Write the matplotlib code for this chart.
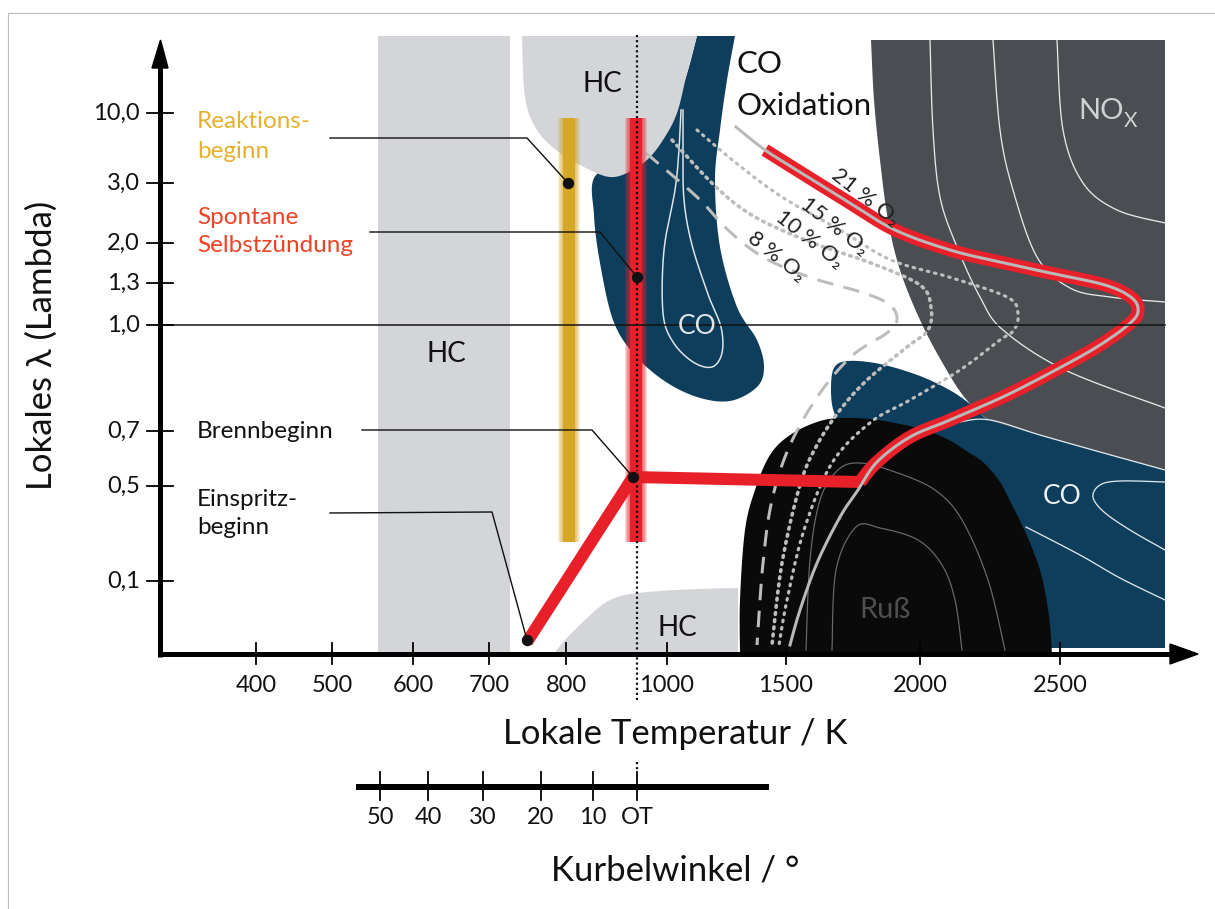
import numpy as np
import matplotlib.pyplot as plt

plt.rcParams['font.family'] = ['Lato', 'DejaVu Sans']

# ---- axis scales (schematic: positions on the 1215x909 drawing canvas) ----
lambda_labels = ["10,0", "3,0", "2,0", "1,3", "1,0", "0,7", "0,5", "0,1"]
lambda_pos = [113, 183, 243, 283, 325, 431, 486, 581]
temp_labels = ["400", "500", "600", "700", "800", "1000", "1500", "2000", "2500"]
temp_pos = [256, 332, 413, 489, 566, 667, 786, 920, 1060]
crank_labels = ["50", "40", "30", "20", "10", "OT"]
crank_pos = [380, 428, 483, 541, 593, 637]

# ---- region outlines (curved part, straight corners close the shape) ----
nox_curve = [(1165, 470), (1100, 452), (1040, 435), (990, 420), (965, 398), (942, 362),
             (920, 320), (900, 270), (888, 220), (880, 160), (874, 100), (871, 40)]
nox_corner = [(1165, 40)]
co_right_curve = [(1165, 470), (1100, 452), (1040, 435), (990, 420), (975, 408), (953, 392),
                  (920, 376), (880, 364), (848, 361), (834, 368), (831, 390), (834, 412),
                  (845, 425), (900, 432), (1000, 500), (1050, 648)]
co_right_corner = [(1165, 648)]
soot_curve = [(740, 655), (740, 600), (745, 530), (755, 490), (770, 455), (790, 435),
              (817, 422), (840, 418), (870, 419), (895, 423), (925, 430), (949, 440),
              (968, 452), (984, 463), (1000, 482), (1011, 503), (1022, 525), (1030, 543),
              (1040, 570), (1046, 597), (1050, 625), (1052, 655)]
co_left_curve = [(735, 36), (727, 80), (720, 130), (715, 180), (720, 247), (737, 307),
                 (757, 340), (764, 367), (757, 387), (730, 401), (697, 397), (663, 380),
                 (633, 353), (613, 320), (600, 263), (594, 215), (596, 175), (640, 160),
                 (665, 130), (685, 80), (697, 36)]
hc_top_curve = [(697, 36), (687, 73), (677, 113), (663, 140), (647, 160), (627, 173),
                (610, 177), (590, 170), (560, 153), (537, 130), (525, 97), (522, 36)]
hc_bottom_curve = [(553, 655), (565, 640), (585, 620), (605, 603), (625, 595), (660, 591),
                   (700, 589), (738, 588)]
hc_bottom_corner = [(738, 655)]
hc_band_x = (378, 510)

# ---- contour lines ----
co_left_contour = [(681, 110), (679, 150), (675, 190), (664, 250), (663, 313), (673, 342),
                   (693, 362), (712, 367), (722, 353), (721, 327), (709, 297), (692, 245),
                   (684, 200), (683, 150), (683, 110)]
nox_lines = [
    [(930, 40), (933, 130), (940, 197), (957, 247), (980, 297), (1003, 330), (1065, 370), (1165, 408)],
    [(993, 40), (1000, 130), (1013, 190), (1037, 257), (1070, 288), (1110, 297), (1165, 302)],
    [(1057, 40), (1063, 130), (1083, 183), (1117, 210), (1165, 223)],
]
co_right_lines = [
    [(935, 430), (960, 422), (990, 420), (1040, 435), (1100, 452), (1165, 470)],
    [(1165, 482), (1120, 481), (1100, 485), (1093, 497), (1104, 512), (1130, 530), (1165, 550)],
    [(1026, 527), (1080, 555), (1120, 578), (1165, 600)],
]
soot_arches = [
    [(806, 650), (810, 560), (820, 500), (838, 470), (860, 463), (895, 472), (935, 490),
     (962, 520), (988, 580), (1005, 650)],
    [(832, 650), (836, 570), (856, 527), (880, 528), (918, 540), (942, 565), (955, 600), (962, 650)],
]

# ---- O2 curves and process path ----
o2_8 = [(646, 153), (697, 197), (728, 230), (763, 257), (809, 277), (864, 293), (890, 305),
        (897, 320), (887, 333), (853, 355), (820, 393), (790, 445), (772, 500), (763, 563), (757, 645)]
o2_10 = [(672, 140), (716, 187), (755, 217), (813, 243), (871, 263), (920, 285), (931, 307),
         (928, 330), (907, 347), (867, 380), (840, 410), (817, 445), (800, 485), (782, 563), (772, 645)]
o2_15 = [(697, 130), (736, 163), (782, 197), (840, 230), (891, 260), (949, 277), (1007, 297),
         (1018, 313), (1014, 330), (1000, 340), (960, 370), (910, 400), (871, 422), (832, 463),
         (804, 530), (787, 600), (779, 645)]
o2_21 = [(736, 127), (765, 150), (800, 172), (850, 203), (895, 230), (950, 250), (1000, 262),
         (1050, 273), (1105, 285), (1132, 298), (1138, 312), (1128, 325), (1100, 345),
         (1065, 365), (1007, 395), (950, 420), (910, 437), (877, 462), (858, 490), (840, 517),
         (817, 563), (800, 610), (790, 645)]
path_start = [(527, 642), (633, 477), (860, 482)]
path_upper = [(860, 482), (877, 462), (910, 437), (950, 420), (1007, 395), (1065, 365),
              (1100, 345), (1128, 325), (1138, 312), (1132, 298), (1105, 285), (1050, 273),
              (1000, 262), (950, 250), (895, 230), (850, 203), (800, 172), (765, 150)]

bar_yellow_x, bar_red_x, bar_top, bar_bottom = 569, 636, 118, 542

# annotation: text lines, text y, leader polyline, colour
annotations = [
    (["Reaktions-", "beginn"], [122, 151], [(330, 138), (527, 138), (568, 183)], '#e6b12e'),
    (["Spontane", "Selbstzündung"], [217, 245], [(370, 232), (600, 232), (637, 277)], '#ee4325'),
    (["Brennbeginn"], [431], [(362, 430), (592, 430), (633, 477)], '#111111'),
    (["Einspritz-", "beginn"], [499, 527], [(330, 513), (492, 512), (527, 640)], '#111111'),
]

LIGHT = '#d3d5d8'
BLUE = '#0e3e5c'
NOX = '#4a4e52'
PX = 0.72  # points per pixel at dpi 100


def smooth(pts, n=14):
    p = np.asarray(pts, float)
    p = np.vstack([p[0], p, p[-1]])
    t = np.linspace(0, 1, n, endpoint=False)[:, None]
    out = []
    for i in range(1, len(p) - 2):
        p0, p1, p2, p3 = p[i - 1], p[i], p[i + 1], p[i + 2]
        out.append(0.5 * (2 * p1 + (-p0 + p2) * t + (2 * p0 - 5 * p1 + 4 * p2 - p3) * t ** 2
                          + (-p0 + 3 * p1 - 3 * p2 + p3) * t ** 3))
    out.append(p[-2][None])
    return np.vstack(out)


def region(ax, curve, corners, color, z):
    xy = np.vstack([smooth(curve)] + ([np.asarray(corners, float)] if corners else []))
    ax.fill(xy[:, 0], xy[:, 1], color=color, lw=0, zorder=z)


def line(ax, pts, **kw):
    xy = smooth(pts)
    ax.plot(xy[:, 0], xy[:, 1], **kw)


fig = plt.figure(figsize=(12.15, 9.09), dpi=100, facecolor='white')
ax = fig.add_axes([0, 0, 1, 1])
ax.set_xlim(0, 1215)
ax.set_ylim(909, 0)
ax.axis('off')

# frame
ax.plot([8, 8, 1215], [909, 12.5, 12.5], color='#bdbdbd', lw=1.2 * PX, zorder=0)

# regions
ax.fill([hc_band_x[0], hc_band_x[1], hc_band_x[1], hc_band_x[0]], [36, 36, 655, 655],
        color=LIGHT, lw=0, zorder=1)
region(ax, hc_bottom_curve, hc_bottom_corner, LIGHT, 1)
region(ax, co_left_curve, None, BLUE, 1.5)
region(ax, hc_top_curve, None, LIGHT, 1.6)
region(ax, nox_curve, nox_corner, NOX, 1)
for pts in nox_lines:
    line(ax, pts, color='#e8e8e8', lw=1.3 * PX, zorder=1.1)
region(ax, co_right_curve, co_right_corner, BLUE, 1.2)
for pts in co_right_lines:
    line(ax, pts, color='#dfe6ea', lw=1.3 * PX, zorder=1.3)
region(ax, soot_curve, None, '#0a0a0a', 1.4)
for pts in soot_arches:
    line(ax, pts, color='#6a6a6a', lw=1.2 * PX, zorder=1.45)
line(ax, co_left_contour, color='#dfe6ea', lw=1.5 * PX, zorder=1.55)

# O2 curves
O2C = '#bdbdbd'
line(ax, o2_8, color=O2C, lw=3 * PX, ls=(0, (5.5, 3.5)), zorder=3)
line(ax, o2_10, color=O2C, lw=3.6 * PX, ls=(0, (0.5, 1.5)), dash_capstyle='round', zorder=3)
line(ax, o2_15, color=O2C, lw=3.2 * PX, ls=(0, (0.5, 1.8)), dash_capstyle='round', zorder=3)

# vertical bars with soft edges
for bx, col in [(bar_yellow_x, '#d6a82a'), (bar_red_x, '#e8202a')]:
    for w in [22, 20, 18, 16, 14]:
        ax.plot([bx, bx], [bar_top, bar_bottom], color=col, lw=w * PX, alpha=0.18,
                solid_capstyle='butt', zorder=4)
    ax.plot([bx, bx], [bar_top, bar_bottom], color=col, lw=12 * PX,
            solid_capstyle='butt', zorder=4)

# TDC dotted line
ax.plot([637, 637], [35, 700], color='#111111', lw=2.2 * PX, ls=(0, (1, 1.3)), zorder=4.5)
ax.plot([637, 637], [762, 772], color='#111111', lw=2.2 * PX, ls=(0, (1, 1.3)), zorder=4.5)

# process path
RED = '#e8202a'
ax.plot([p[0] for p in path_start], [p[1] for p in path_start], color=RED, lw=12 * PX,
        solid_joinstyle='miter', solid_capstyle='butt', zorder=5)
line(ax, path_upper, color=RED, lw=13 * PX, solid_capstyle='butt', zorder=5)
line(ax, o2_21, color='#b9b9b9', lw=3 * PX, zorder=5.5)

# lambda = 1
ax.plot([160, 1165], [325, 325], color='#111111', lw=1.5 * PX, zorder=5.8)

# annotations
for lines_, ys, leader, col in annotations:
    for txt, ty in zip(lines_, ys):
        ax.text(197, ty, txt, color=col, fontsize=17.5, ha='left', va='center', zorder=7)
    ax.plot([p[0] for p in leader], [p[1] for p in leader], color='#111111', lw=1.4 * PX, zorder=6)
    ax.plot(leader[-1][0], leader[-1][1], 'o', color='#111111', ms=10 * PX, zorder=6.5)

# region labels
ax.text(446, 354, "HC", fontsize=20, ha='center', va='center', color='#111111', zorder=7)
ax.text(602, 84, "HC", fontsize=20, ha='center', va='center', color='#111111', zorder=7)
ax.text(677, 628, "HC", fontsize=20, ha='center', va='center', color='#111111', zorder=7)
ax.text(736, 64, "CO", fontsize=22.5, ha='left', va='center', color='#111111', zorder=7)
ax.text(736, 106, "Oxidation", fontsize=22.5, ha='left', va='center', color='#111111', zorder=7)
ax.text(1124, 111, "NO", fontsize=21, ha='right', va='center', color='#cfd1d3', zorder=7)
ax.text(1124, 121, "X", fontsize=15, ha='left', va='center', color='#cfd1d3', zorder=7)
ax.text(697, 327, "CO", fontsize=19, ha='center', va='center', color='#dfe6ea', zorder=7)
ax.text(1062, 496, "CO", fontsize=19, ha='center', va='center', color='#eef2f4', zorder=7)
ax.text(885, 610, "Ruß", fontsize=21, ha='center', va='center', color='#4e4e4e', zorder=7)
for txt, cx, cy in [("21 % O₂", 866, 197), ("15 % O₂", 835, 226),
                    ("10 % O₂", 810, 239), ("8 % O₂", 777, 256)]:
    ax.text(cx, cy, txt, fontsize=16, rotation=-38, ha='center', va='center',
            rotation_mode='anchor', color='#222222', zorder=7)

# axes
ax.plot([160, 160], [657, 66], color='black', lw=5 * PX, solid_capstyle='butt', zorder=6)
ax.fill([152, 168, 160.5], [68, 68, 40], color='black', zorder=6)
ax.plot([158, 1172], [654, 654], color='black', lw=5 * PX, solid_capstyle='butt', zorder=6)
ax.fill([1170, 1170, 1198], [644, 664, 654], color='black', zorder=6)
for lab, yp in zip(lambda_labels, lambda_pos):
    ax.plot([147, 173], [yp, yp], color='black', lw=1.8 * PX, zorder=6)
    ax.text(140, yp, lab, fontsize=17, ha='right', va='center', color='#111111')
for lab, xp in zip(temp_labels, temp_pos):
    ax.plot([xp, xp], [643, 664], color='black', lw=1.8 * PX, zorder=6)
    ax.text(xp, 686, lab, fontsize=17, ha='center', va='center', color='#111111')

# crank angle scale
ax.plot([356, 769], [787, 787], color='black', lw=6 * PX, solid_capstyle='butt', zorder=6)
for lab, xp in zip(crank_labels, crank_pos):
    ax.plot([xp, xp], [772, 800], color='black', lw=1.8 * PX, zorder=6)
    ax.text(xp, 817, lab, fontsize=17, ha='center', va='center', color='#111111')

ax.text(675, 734, "Lokale Temperatur / K", fontsize=25, ha='center', va='center', color='#111111')
ax.text(675, 870, "Kurbelwinkel / °", fontsize=25, ha='center', va='center', color='#111111')
ax.text(42, 345, "Lokales λ (Lambda)", fontsize=25, ha='center', va='center',
        rotation=90, color='#111111')

fig.savefig('out.png', dpi=100, facecolor='white')
